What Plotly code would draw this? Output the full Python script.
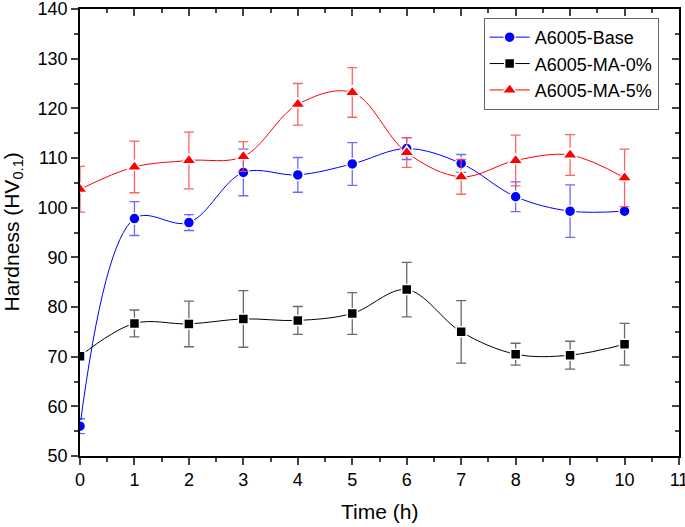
import plotly.graph_objects as go

time_h = [0, 1, 2, 3, 4, 5, 6, 7, 8, 9, 10]

base_vals = [56.0, 97.8, 97.0, 107.1, 106.6, 108.8, 111.9, 108.9, 102.2, 99.3, 99.3]
base_err = [1.5, 3.4, 1.6, 4.7, 3.5, 4.3, 2.2, 1.8, 3.0, 5.3, 0.6]

ma0_vals = [70.1, 76.7, 76.6, 77.6, 77.3, 78.7, 83.5, 75.0, 70.5, 70.3, 72.5]
ma0_err = [0.5, 2.7, 4.6, 5.7, 2.8, 4.2, 5.5, 6.3, 2.2, 2.8, 4.2]

ma5_vals = [103.7, 108.2, 109.5, 110.3, 120.8, 123.2, 111.1, 106.2, 109.5, 110.6, 106.0]
ma5_err = [4.6, 5.2, 5.7, 3.0, 4.2, 5.0, 3.0, 3.5, 5.1, 4.1, 5.8]

series = [
    ("A6005-Base", base_vals, base_err, "#0000ff", "rgba(80,80,255,0.85)", "circle", 11),
    ("A6005-MA-0%", ma0_vals, ma0_err, "#000000", "rgba(90,90,90,0.9)", "square", 10),
    ("A6005-MA-5%", ma5_vals, ma5_err, "#ff0000", "rgba(255,70,70,0.85)", "triangle-up", 13),
]

fig = go.Figure()
for name, vals, err, col, ecol, sym, sz in series:
    fig.add_trace(go.Scatter(
        x=time_h, y=vals, name=name, mode="lines+markers",
        line=dict(color=col, width=1, shape="spline", smoothing=1),
        marker=dict(color=col, symbol=sym, size=sz, line=dict(color="white", width=1.5)),
        error_y=dict(type="data", array=err, visible=True, color=ecol, thickness=1.3, width=5),
    ))

font = "Liberation Sans, Arial, sans-serif"
fig.update_layout(
    width=685, height=527,
    margin=dict(l=80, r=6, t=9, b=71, autoexpand=False),
    paper_bgcolor="white", plot_bgcolor="white",
    font=dict(family=font, size=18, color="black"),
    showlegend=True,
    legend=dict(x=0.966, y=0.98, xanchor="right", yanchor="top",
                bordercolor="#666666", borderwidth=1, bgcolor="white",
                font=dict(family=font, size=18), tracegroupgap=0,
                itemwidth=40),
    xaxis=dict(range=[0, 11], tick0=0, dtick=1, ticks="outside", ticklen=7, tickwidth=1.5,
               linecolor="black", linewidth=1.5, showgrid=False, zeroline=False,
               automargin=False, ticklabeloverflow="allow",
               minor=dict(dtick=0.5, ticks="outside", ticklen=4, tickwidth=1.5, showgrid=False)),
    yaxis=dict(range=[50, 140], tick0=50, dtick=10, ticks="outside", ticklen=7, tickwidth=1.5,
               linecolor="black", linewidth=1.5, showgrid=False, zeroline=False,
               automargin=False, ticklabeloverflow="allow",
               minor=dict(dtick=5, ticks="outside", ticklen=4, tickwidth=1.5, showgrid=False)),
    xaxis2=dict(range=[0, 11], overlaying="x", side="top", tick0=0, dtick=1, ticks="inside",
                ticklen=7, tickwidth=1.5, showticklabels=False, linecolor="black", linewidth=1.5,
                showgrid=False, zeroline=False, automargin=False,
                minor=dict(dtick=0.5, ticks="inside", ticklen=4, tickwidth=1.5, showgrid=False)),
    yaxis2=dict(range=[50, 140], overlaying="y", side="right", tick0=50, dtick=10, ticks="inside",
                ticklen=7, tickwidth=1.5, showticklabels=False, linecolor="black", linewidth=1.5,
                showgrid=False, zeroline=False, automargin=False,
                minor=dict(dtick=5, ticks="inside", ticklen=4, tickwidth=1.5, showgrid=False)),
    annotations=[
        dict(text="Time (h)", xref="paper", yref="paper", x=0.5, y=0, yshift=-55,
             xanchor="center", yanchor="middle", showarrow=False, font=dict(size=21)),
        dict(text="Hardness (HV<sub>0.1</sub>)", xref="paper", yref="paper", x=0, xshift=-68,
             y=0.5, xanchor="center", yanchor="middle", textangle=-90, showarrow=False,
             font=dict(size=21)),
    ],
)
fig.add_trace(go.Scatter(x=[None], y=[None], xaxis="x2", yaxis="y2", showlegend=False, hoverinfo="skip"))

fig.write_html("out.html", config={"displayModeBar": False})
with open("out.html", "r", encoding="utf-8") as f:
    html = f.read()
html = html.replace("<head>", "<head><style>html,body{margin:0;padding:0;overflow:hidden;}</style>", 1)
with open("out.html", "w", encoding="utf-8") as f:
    f.write(html)
